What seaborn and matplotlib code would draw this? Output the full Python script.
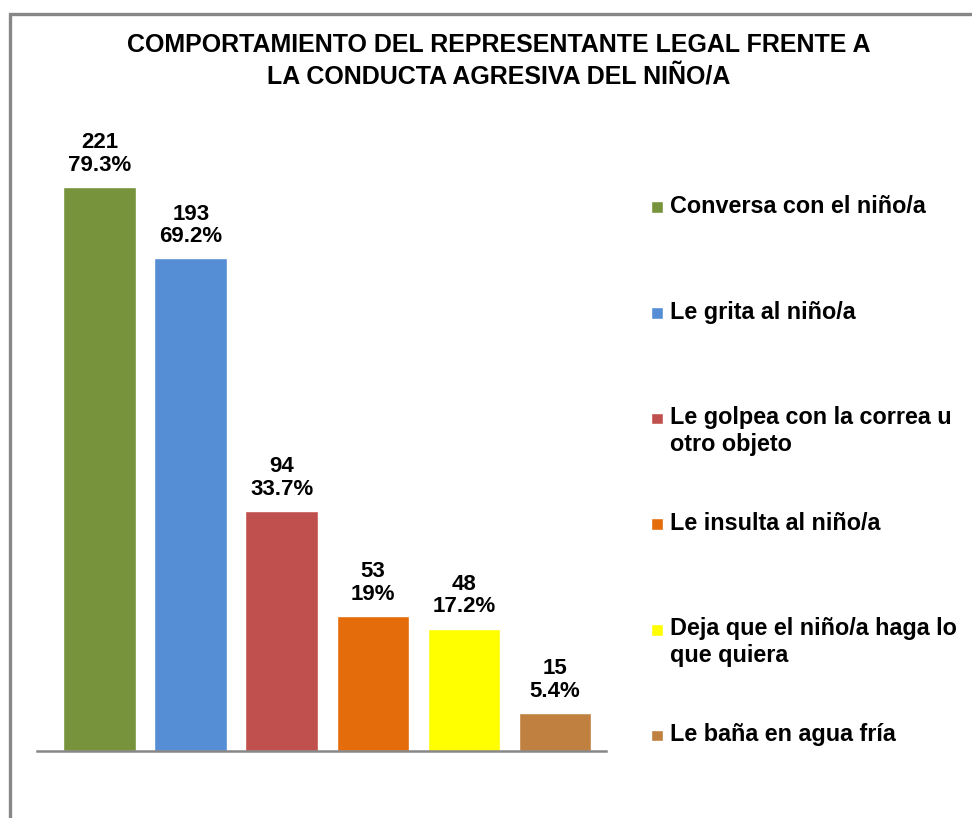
import seaborn as sns
import matplotlib.pyplot as plt
from matplotlib.patches import Rectangle
from matplotlib.legend_handler import HandlerPatch

# Datos del gráfico
categorias = [
    "Conversa con el niño/a",
    "Le grita al niño/a",
    "Le golpea con la correa u\notro objeto",
    "Le insulta al niño/a",
    "Deja que el niño/a haga lo\nque quiera",
    "Le baña en agua fría",
]
frecuencias = [221, 193, 94, 53, 48, 15]
porcentajes = [79.3, 69.2, 33.7, 19, 17.2, 5.4]
colores = ["#77933C", "#558ED5", "#C0504D", "#E46C0A", "#FFFF00", "#C0803F"]

titulo = "COMPORTAMIENTO DEL REPRESENTANTE LEGAL FRENTE A\nLA CONDUCTA AGRESIVA DEL NIÑO/A"

sns.set_theme(style="white")
plt.rcParams['font.family'] = ['Liberation Sans', 'DejaVu Sans']
plt.rcParams['text.color'] = 'black'

fig = plt.figure(figsize=(9.72, 8.18), dpi=100)
ax = fig.add_axes([37/972, 67/818, 569/972, 638/818])

sns.barplot(x=categorias, y=frecuencias, hue=categorias, palette=colores,
            dodge=False, legend=False, width=0.8, saturation=1, ax=ax)

ax.set_ylim(0, 250)
ax.set_xlim(-0.69, 5.56)
ax.set_xticks([])
ax.set_yticks([])
ax.set_xlabel("")
ax.set_ylabel("")
for s in ["top", "right", "left"]:
    ax.spines[s].set_visible(False)
ax.spines["bottom"].set_color("#878787")
ax.spines["bottom"].set_linewidth(1.8)

# Etiquetas sobre las barras
for cont, n, p in zip(ax.containers, frecuencias, porcentajes):
    ax.bar_label(cont, labels=[f"{n}\n{p:g}%"], padding=8, fontsize=16,
                 fontweight="bold", color="black", linespacing=1.1)

# Leyenda con el cuadro alineado a la primera línea
def cuadro(legend, orig_handle, xdescent, ydescent, width, height, fontsize):
    lado = 0.5 * fontsize
    return Rectangle((-xdescent, -ydescent + 0.6 * fontsize), lado, lado)

handles = [c.patches[0] for c in ax.containers]
labels = [c if "\n" in c else c + "\n" for c in categorias]
leg = fig.legend(handles, labels, loc="upper left",
                 bbox_to_anchor=(651/972, 1 - 195/818),
                 frameon=False, prop={"size": 16.8, "weight": "bold"},
                 handlelength=0.5, handleheight=0.5, handletextpad=0.3,
                 labelspacing=2.4, borderpad=0, borderaxespad=0,
                 handler_map={Rectangle: HandlerPatch(patch_func=cuadro)})
for t in leg.get_texts():
    t.set_color("black")

# Título
fig.text(0.513, 1 - 33/818, titulo, ha="center", va="top", fontsize=18,
         fontweight="bold", color="black", linespacing=1.38)

# Marco gris del área del gráfico
fig.patches.append(Rectangle((10/972, -0.1), 1.2, 1 - 14/818 + 0.1,
                             transform=fig.transFigure, fill=False,
                             edgecolor="#878787", linewidth=2.4))

fig.savefig("out.png", dpi=100)
